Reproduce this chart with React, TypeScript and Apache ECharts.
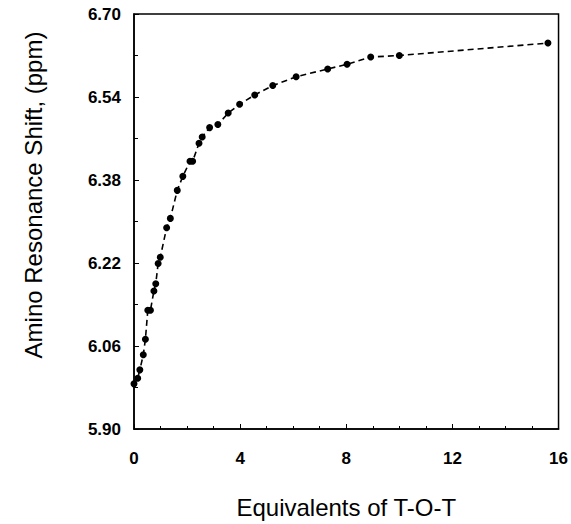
import React, { useEffect, useRef } from "react";
import * as echarts from "echarts";

const equivalents = [
  0.0, 0.14, 0.22, 0.35, 0.43, 0.52, 0.62, 0.75, 0.82, 0.91, 0.99, 1.23, 1.37, 1.63,
  1.84, 2.11, 2.21, 2.45, 2.57, 2.85, 3.16, 3.55, 3.98, 4.55, 5.23, 6.11, 7.3, 8.03,
  8.92, 10.0, 15.6,
];
const shifts = [
  5.987, 5.998, 6.014, 6.043, 6.073, 6.129, 6.129, 6.166, 6.18, 6.219, 6.231, 6.288,
  6.306, 6.36, 6.387, 6.416, 6.416, 6.451, 6.463, 6.481, 6.487, 6.509, 6.526, 6.544,
  6.562, 6.579, 6.594, 6.603, 6.617, 6.62, 6.644,
];
const xTitle = "Equivalents of T-O-T";
const yTitle = "Amino Resonance Shift, (ppm)";

export default function App() {
  const ref = useRef<HTMLDivElement>(null);
  useEffect(() => {
    if (!ref.current) return;
    const chart = echarts.init(ref.current, null, { renderer: "svg" });
    const data = equivalents.map((x, i) => [x, shifts[i]]);
    const font = "Liberation Sans, Arial, sans-serif";
    chart.setOption({
      animation: false,
      backgroundColor: "#fff",
      grid: {
        left: 134,
        right: 10,
        top: 14,
        bottom: 94,
        show: true,
        borderColor: "#000",
        borderWidth: 1.5,
        backgroundColor: "transparent",
      },
      graphic: [
        {
          type: "text",
          x: 33,
          y: 195,
          rotation: Math.PI / 2,
          style: {
            text: yTitle,
            fontFamily: font,
            fontSize: 24,
            fill: "#000",
            textAlign: "center",
            textVerticalAlign: "middle",
          },
        },
      ],
      xAxis: {
        type: "value",
        min: 0,
        max: 16,
        interval: 4,
        name: xTitle,
        nameLocation: "middle",
        nameGap: 66,
        nameTextStyle: { fontFamily: font, fontSize: 24, color: "#000" },
        axisLine: { show: true, lineStyle: { color: "#000", width: 1.5 } },
        axisTick: { show: true, inside: true, length: 5, lineStyle: { color: "#000" } },
        minorTick: { show: true, splitNumber: 4, length: 3, lineStyle: { color: "#000" } },
        splitLine: { show: false },
        axisLabel: {
          margin: 21,
          fontFamily: font,
          fontSize: 17,
          fontWeight: "bold",
          color: "#000",
        },
      },
      yAxis: {
        type: "value",
        min: 5.9,
        max: 6.7,
        interval: 0.16,
        axisLine: { show: true, lineStyle: { color: "#000", width: 1.5 } },
        axisTick: { show: true, inside: true, length: 5, lineStyle: { color: "#000" } },
        minorTick: { show: true, splitNumber: 2, length: 4, lineStyle: { color: "#000" } },
        splitLine: { show: false },
        axisLabel: {
          margin: 13,
          fontFamily: font,
          fontSize: 17,
          fontWeight: "bold",
          color: "#000",
          padding: [8, 0, 0, 0],
          formatter: (v: number) => v.toFixed(2),
        },
      },
      series: [
        {
          type: "line",
          data,
          symbol: "circle",
          symbolSize: 7,
          itemStyle: { color: "#000" },
          lineStyle: { color: "#000", width: 1.6, type: [6, 4] },
        },
      ],
    });
    return () => chart.dispose();
  }, []);
  return <div ref={ref} style={{ position: "fixed", left: 0, top: 0, width: 571, height: 524 }} />;
}
